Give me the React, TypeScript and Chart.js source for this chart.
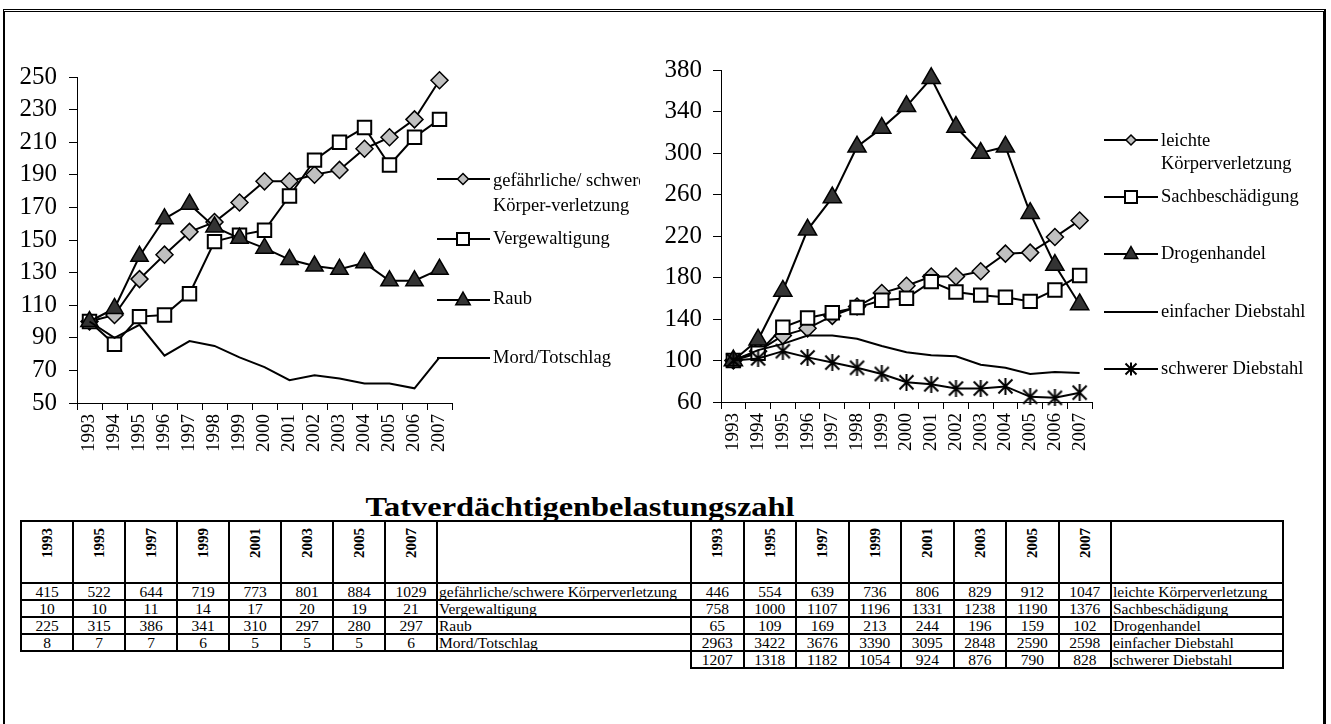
import React, { useEffect, useRef } from 'react';
import { Chart, registerables } from 'chart.js';

Chart.register(...registerables);

const FONT = 'Liberation Serif';
Chart.defaults.font.family = FONT;
const GRAY = '#c0c0c0';
const DARK = '#333333';

// ---------- chart data (index, 1993 = 100) ----------
const years = ['1993', '1994', '1995', '1996', '1997', '1998', '1999', '2000', '2001', '2002', '2003', '2004', '2005', '2006', '2007'];

const gefKV = [100, 104, 126, 141, 155, 161, 173, 186, 186, 190, 193, 206, 213, 224, 248];
const vergew = [100, 86, 103, 104, 117, 149, 153, 156, 177, 199, 210, 219, 196, 213, 224];
const raub = [100, 108, 140, 163, 172, 158, 151, 145, 138, 134, 132, 136, 125, 125, 132];
const mord = [100, 90, 98, 79, 88, 85, 78, 72, 64, 67, 65, 62, 62, 59, 78];

const leichteKV = [100, 109, 124, 131, 143, 152, 165, 172, 181, 181, 186, 203, 204, 219, 235];
const sachbesch = [100, 107, 132, 141, 146, 151, 158, 160, 176, 166, 163, 161, 157, 168, 182];
const drogen = [100, 120, 167, 226, 257, 306, 324, 345, 372, 325, 300, 306, 242, 192, 154];
const einfDieb = [100, 110, 116, 124, 124, 121, 114, 108, 105, 104, 96, 93, 87, 89, 88];
const schwDieb = [100, 102, 109, 103, 98, 93, 87, 79, 77, 73, 73, 75, 65, 64, 69];

// ---------- table data ----------
const tableTitle = 'Tatverdächtigenbelastungszahl';
const tableYears = ['1993', '1995', '1997', '1999', '2001', '2003', '2005', '2007'];
const tblGefKV = [415, 522, 644, 719, 773, 801, 884, 1029];
const tblVergew = [10, 10, 11, 14, 17, 20, 19, 21];
const tblRaub = [225, 315, 386, 341, 310, 297, 280, 297];
const tblMord = [8, 7, 7, 6, 5, 5, 5, 6];
const tblLeichteKV = [446, 554, 639, 736, 806, 829, 912, 1047];
const tblSach = [758, 1000, 1107, 1196, 1331, 1238, 1190, 1376];
const tblDrogen = [65, 109, 169, 213, 244, 196, 159, 102];
const tblEinf = [2963, 3422, 3676, 3390, 3095, 2848, 2590, 2598];
const tblSchw = [1207, 1318, 1182, 1054, 924, 876, 790, 828];

const leftTableLabels = ['gefährliche/schwere Körperverletzung', 'Vergewaltigung', 'Raub', 'Mord/Totschlag'];
const rightTableLabels = ['leichte Körperverletzung', 'Sachbeschädigung', 'Drogenhandel', 'einfacher Diebstahl', 'schwerer Diebstahl'];

type MarkerKind = 'diamond' | 'square' | 'triangle' | 'star' | 'none';

function makeStar(size: number, lw: number): HTMLCanvasElement {
  const c = document.createElement('canvas');
  c.width = size;
  c.height = size;
  const g = c.getContext('2d')!;
  g.strokeStyle = '#000';
  g.lineWidth = lw;
  const m = lw / 2 + 0.5;
  g.beginPath();
  g.moveTo(m, m);
  g.lineTo(size - m, size - m);
  g.moveTo(size - m, m);
  g.lineTo(m, size - m);
  g.moveTo(size / 2, 0);
  g.lineTo(size / 2, size);
  g.stroke();
  return c;
}

function drawMarker(ctx: CanvasRenderingContext2D, kind: MarkerKind, x: number, y: number, r: number) {
  ctx.save();
  ctx.strokeStyle = '#000';
  ctx.lineWidth = 1.5;
  ctx.beginPath();
  if (kind === 'diamond') {
    ctx.moveTo(x, y - r);
    ctx.lineTo(x + r, y);
    ctx.lineTo(x, y + r);
    ctx.lineTo(x - r, y);
    ctx.closePath();
    ctx.fillStyle = GRAY;
    ctx.fill();
    ctx.stroke();
  } else if (kind === 'square') {
    ctx.rect(x - r, y - r, 2 * r, 2 * r);
    ctx.fillStyle = '#fff';
    ctx.fill();
    ctx.lineWidth = 2;
    ctx.stroke();
  } else if (kind === 'triangle') {
    ctx.moveTo(x, y - r);
    ctx.lineTo(x + r * 0.9, y + r * 0.6);
    ctx.lineTo(x - r * 0.9, y + r * 0.6);
    ctx.closePath();
    ctx.fillStyle = DARK;
    ctx.fill();
    ctx.stroke();
  } else if (kind === 'star') {
    ctx.lineWidth = 2;
    ctx.moveTo(x - r, y - r);
    ctx.lineTo(x + r, y + r);
    ctx.moveTo(x + r, y - r);
    ctx.lineTo(x - r, y + r);
    ctx.moveTo(x, y - r - 1);
    ctx.lineTo(x, y + r + 1);
    ctx.stroke();
  }
  ctx.restore();
}

type LegendItem = { lines: string[]; y: number; ty: number; marker: MarkerKind; r: number };
type LegendGeom = { x0: number; x1: number; xm: number; tx: number; fontSize: number; lineH: number };

function makeLegendPlugin(items: LegendItem[], g: LegendGeom) {
  return {
    id: 'customLegend',
    afterDraw(chart: any) {
      const ctx: CanvasRenderingContext2D = chart.ctx;
      ctx.save();
      for (const it of items) {
        ctx.strokeStyle = '#000';
        ctx.lineWidth = 2;
        ctx.beginPath();
        ctx.moveTo(g.x0, it.y);
        ctx.lineTo(g.x1, it.y);
        ctx.stroke();
        if (it.marker !== 'none') drawMarker(ctx, it.marker, g.xm, it.y, it.r);
        ctx.fillStyle = '#000';
        ctx.font = `${g.fontSize}px "${FONT}"`;
        ctx.textBaseline = 'middle';
        ctx.textAlign = 'left';
        it.lines.forEach((t, i) => ctx.fillText(t, g.tx, it.ty + i * g.lineH));
      }
      ctx.restore();
    },
  };
}

type ChartSpec = {
  datasets: any[];
  yMin: number;
  yMax: number;
  step: number;
  yWidth: number;
  xHeight: number;
  padTop: number;
  padRight: number;
  yPad: number;
  legendItems: LegendItem[];
  legendGeom: LegendGeom;
};

function buildConfig(s: ChartSpec): any {
  return {
    type: 'line',
    data: { labels: years, datasets: s.datasets },
    plugins: [makeLegendPlugin(s.legendItems, s.legendGeom)],
    options: {
      responsive: false,
      animation: false,
      layout: { padding: { top: s.padTop, right: s.padRight, left: 0, bottom: 0 } },
      plugins: { legend: { display: false }, tooltip: { enabled: false } },
      scales: {
        x: {
          type: 'category',
          offset: true,
          grid: { offset: true, drawOnChartArea: false, drawTicks: true, tickLength: 7, color: '#000', lineWidth: 1 },
          border: { display: true, color: '#000', width: 1 },
          ticks: {
            autoSkip: false,
            minRotation: 90,
            maxRotation: 90,
            padding: 4,
            color: '#000',
            font: { family: FONT, size: 19 },
          },
          afterFit: (sc: any) => {
            sc.height = s.xHeight;
          },
        },
        y: {
          min: s.yMin,
          max: s.yMax,
          grid: { drawOnChartArea: false, drawTicks: true, tickLength: 8, color: '#000', lineWidth: 1 },
          border: { display: true, color: '#000', width: 1 },
          ticks: {
            autoSkip: false,
            stepSize: s.step,
            padding: s.yPad,
            color: '#000',
            font: { family: FONT, size: 25, lineHeight: 1 },
          },
          afterFit: (sc: any) => {
            sc.width = s.yWidth;
          },
        },
      },
    },
  };
}

function lineDs(label: string, data: number[], extra: any, order: number) {
  return {
    label,
    data,
    borderColor: '#000',
    borderWidth: 2,
    tension: 0,
    clip: false,
    order,
    pointBorderColor: '#000',
    ...extra,
  };
}

const starImg = typeof document !== 'undefined' ? makeStar(17, 2) : undefined;

function ChartCanvas({ spec, left, top, width, height }: { spec: ChartSpec; left: number; top: number; width: number; height: number }) {
  const ref = useRef<HTMLCanvasElement | null>(null);
  useEffect(() => {
    if (!ref.current) return;
    const chart = new Chart(ref.current, buildConfig(spec));
    return () => chart.destroy();
  }, []);
  return (
    <canvas
      ref={ref}
      width={width}
      height={height}
      style={{ position: 'absolute', left, top, width, height }}
    />
  );
}

const CANVAS_TOP = 30;

const leftSpec: ChartSpec = {
  datasets: [
    lineDs('gefährliche/ schwere Körper-verletzung', gefKV, { pointStyle: 'rectRot', pointRadius: 8.5, pointBackgroundColor: GRAY, pointBorderWidth: 1.5 }, 3),
    lineDs('Vergewaltigung', vergew, { pointStyle: 'rect', pointRadius: 9.5, pointBackgroundColor: '#fff', pointBorderWidth: 2 }, 2),
    lineDs('Raub', raub, { pointStyle: 'triangle', pointRadius: 10, pointBackgroundColor: DARK, pointBorderWidth: 1.5 }, 1),
    lineDs('Mord/Totschlag', mord, { pointRadius: 0 }, 0),
  ],
  yMin: 50,
  yMax: 250,
  step: 20,
  yWidth: 77,
  xHeight: 450 - (403 - CANVAS_TOP),
  padTop: 77 - CANVAS_TOP,
  padRight: 640 - 452,
  yPad: 12,
  legendItems: [
    { lines: ['gefährliche/ schwere', 'Körper-verletzung'], y: 179 - CANVAS_TOP, ty: 181 - CANVAS_TOP, marker: 'diamond', r: 5.5 },
    { lines: ['Vergewaltigung'], y: 239 - CANVAS_TOP, ty: 239 - CANVAS_TOP, marker: 'square', r: 6 },
    { lines: ['Raub'], y: 300 - CANVAS_TOP, ty: 299 - CANVAS_TOP, marker: 'triangle', r: 8 },
    { lines: ['Mord/Totschlag'], y: 358 - CANVAS_TOP, ty: 358 - CANVAS_TOP, marker: 'none', r: 0 },
  ],
  legendGeom: { x0: 437, x1: 490, xm: 463, tx: 493, fontSize: 18.5, lineH: 25 },
};

const R_LEFT = 640;
const rightSpec: ChartSpec = {
  datasets: [
    lineDs('leichte Körperverletzung', leichteKV, { pointStyle: 'rectRot', pointRadius: 8.5, pointBackgroundColor: GRAY, pointBorderWidth: 1.5 }, 4),
    lineDs('Sachbeschädigung', sachbesch, { pointStyle: 'rect', pointRadius: 9.5, pointBackgroundColor: '#fff', pointBorderWidth: 2 }, 3),
    lineDs('Drogenhandel', drogen, { pointStyle: 'triangle', pointRadius: 10.5, pointBackgroundColor: DARK, pointBorderWidth: 1.5 }, 2),
    lineDs('einfacher Diebstahl', einfDieb, { pointRadius: 0 }, 1),
    lineDs('schwerer Diebstahl', schwDieb, { pointStyle: starImg, pointRadius: 8 }, 0),
  ],
  yMin: 60,
  yMax: 380,
  step: 40,
  yWidth: 721 - R_LEFT,
  xHeight: 450 - (402 - CANVAS_TOP),
  padTop: 70 - CANVAS_TOP,
  padRight: 1331 - 1092,
  yPad: 11,
  legendItems: [
    { lines: ['leichte', 'Körperverletzung'], y: 140 - CANVAS_TOP, ty: 141 - CANVAS_TOP, marker: 'diamond', r: 5 },
    { lines: ['Sachbeschädigung'], y: 197 - CANVAS_TOP, ty: 197 - CANVAS_TOP, marker: 'square', r: 6 },
    { lines: ['Drogenhandel'], y: 254 - CANVAS_TOP, ty: 254 - CANVAS_TOP, marker: 'triangle', r: 7.5 },
    { lines: ['einfacher Diebstahl'], y: 312 - CANVAS_TOP, ty: 312 - CANVAS_TOP, marker: 'none', r: 0 },
    { lines: ['schwerer Diebstahl'], y: 369 - CANVAS_TOP, ty: 369 - CANVAS_TOP, marker: 'star', r: 5.5 },
  ],
  legendGeom: { x0: 1104 - R_LEFT, x1: 1158 - R_LEFT, xm: 1131 - R_LEFT, tx: 1161 - R_LEFT, fontSize: 18.5, lineH: 23 },
};

const cellBorder = '2px solid #000';

function DataTable({ left, top, colW, labelW, rows, labels }: { left: number; top: number; colW: number; labelW: number; rows: number[][]; labels: string[] }) {
  const tdNum: React.CSSProperties = { border: cellBorder, textAlign: 'center', padding: 0, height: 15, lineHeight: '15px' };
  return (
    <table
      style={{
        position: 'absolute',
        left,
        top,
        borderCollapse: 'collapse',
        tableLayout: 'fixed',
        width: colW * tableYears.length + labelW,
        fontFamily: FONT,
        fontSize: 15.5,
        color: '#000',
      }}
    >
      <colgroup>
        {tableYears.map((y) => (
          <col key={y} style={{ width: colW }} />
        ))}
        <col style={{ width: labelW }} />
      </colgroup>
      <tbody>
        <tr>
          {tableYears.map((y) => (
            <td key={y} style={{ border: cellBorder, height: 60, padding: 0, textAlign: 'center', verticalAlign: 'top' }}>
              <div
                style={{
                  display: 'inline-block',
                  writingMode: 'vertical-rl',
                  transform: 'rotate(180deg)',
                  fontWeight: 'bold',
                  fontSize: 15,
                  lineHeight: '16px',
                  marginTop: 6,
                }}
              >
                {y}
              </div>
            </td>
          ))}
          <td style={{ border: cellBorder }} />
        </tr>
        {rows.map((r, i) => (
          <tr key={i}>
            {r.map((v, j) => (
              <td key={j} style={tdNum}>
                {v}
              </td>
            ))}
            <td style={{ ...tdNum, textAlign: 'left', paddingLeft: 1, whiteSpace: 'nowrap' }}>{labels[i]}</td>
          </tr>
        ))}
      </tbody>
    </table>
  );
}

export default function App() {
  return (
    <div style={{ position: 'absolute', left: 0, top: 0, width: 1331, height: 724, overflow: 'hidden', background: '#fff' }}>
      <div
        style={{
          position: 'absolute',
          left: 3,
          top: 9,
          width: 1318,
          height: 780,
          borderTop: '3px double #000',
          borderLeft: '2px solid #000',
          borderRight: '3px solid #000',
        }}
      />
      <ChartCanvas spec={leftSpec} left={0} top={CANVAS_TOP} width={640} height={450} />
      <ChartCanvas spec={rightSpec} left={R_LEFT} top={CANVAS_TOP} width={691} height={450} />
      <div
        style={{
          position: 'absolute',
          left: 280,
          top: 493,
          width: 600,
          textAlign: 'center',
          fontFamily: FONT,
          fontWeight: 'bold',
          fontSize: 27,
          lineHeight: '28px',
          color: '#000',
          transform: 'scaleX(1.2)',
          transformOrigin: '50% 50%',
        }}
      >
        {tableTitle}
      </div>
      <DataTable left={20} top={520} colW={52} labelW={254} rows={[tblGefKV, tblVergew, tblRaub, tblMord]} labels={leftTableLabels} />
      <DataTable left={690} top={520} colW={52.5} labelW={172} rows={[tblLeichteKV, tblSach, tblDrogen, tblEinf, tblSchw]} labels={rightTableLabels} />
    </div>
  );
}
